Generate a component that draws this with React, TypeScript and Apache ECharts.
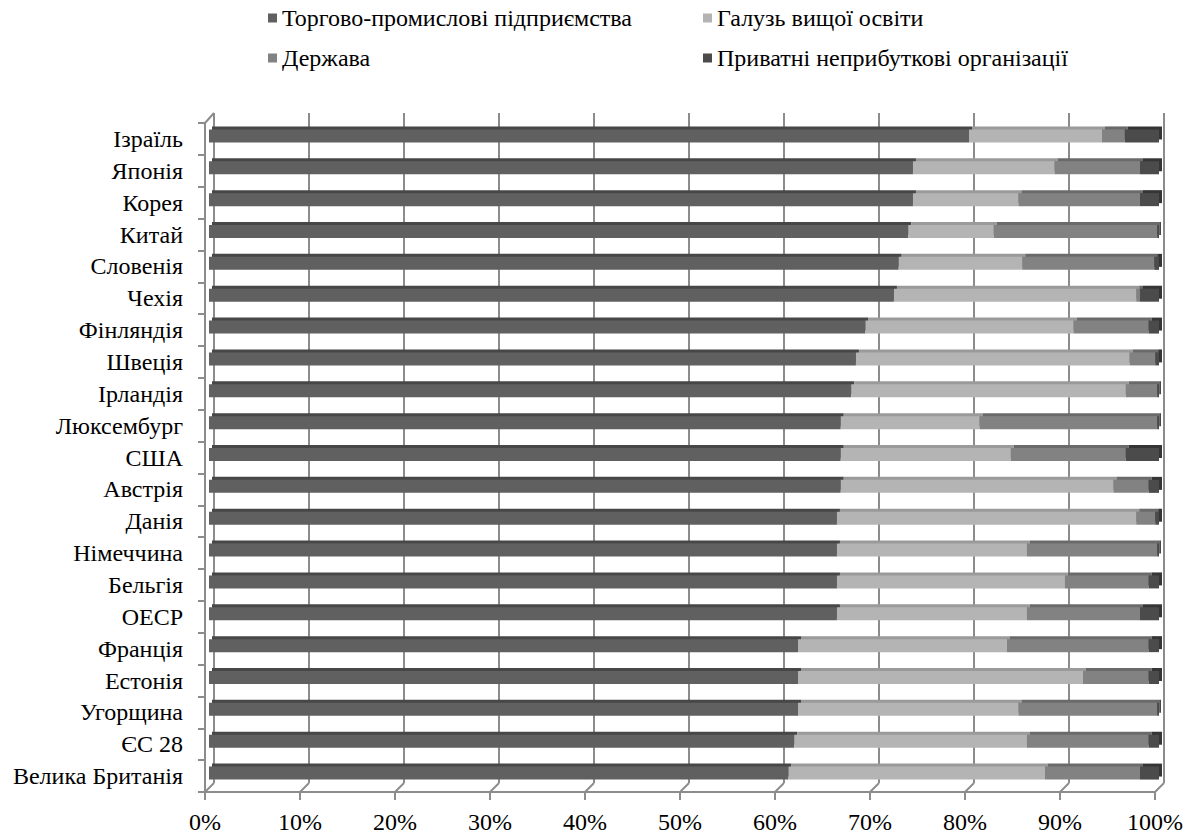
import React, { useEffect, useRef } from "react";
import * as echarts from "echarts";

const categories = [
  "Ізраїль", "Японія", "Корея", "Китай", "Словенія", "Чехія", "Фінляндія",
  "Швеція", "Ірландія", "Люксембург", "США", "Австрія", "Данія", "Німеччина",
  "Бельгія", "ОЕСР", "Франція", "Естонія", "Угорщина", "ЄС 28", "Велика Британія",
];
const seriesNames = [
  "Торгово-промислові підприємства",
  "Галузь вищої освіти",
  "Держава",
  "Приватні неприбуткові організації",
];
const business = [80.0, 74.1, 74.1, 73.6, 72.6, 72.1, 69.1, 68.1, 67.6, 66.5, 66.5, 66.5, 66.1, 66.1, 66.1, 66.1, 62.0, 62.0, 62.0, 61.6, 61.0];
const higherEd = [14.0, 14.9, 11.1, 9.0, 13.0, 25.5, 21.9, 28.8, 28.9, 14.6, 17.9, 28.7, 31.5, 20.0, 24.0, 20.0, 22.0, 30.0, 23.2, 24.5, 27.0];
const government = [2.4, 9.0, 12.8, 17.2, 13.9, 0.4, 7.9, 2.7, 3.3, 18.7, 12.1, 3.7, 2.0, 13.7, 8.8, 11.9, 14.9, 6.9, 14.6, 12.8, 10.0];
const privateNP = [3.6, 2.0, 2.0, 0.2, 0.5, 2.0, 1.1, 0.4, 0.2, 0.2, 3.5, 1.1, 0.4, 0.2, 1.1, 2.0, 1.1, 1.1, 0.2, 1.1, 2.0];
const xTicks = [0, 10, 20, 30, 40, 50, 60, 70, 80, 90, 100];

const colors = ["#606060", "#b4b4b4", "#828282", "#4b4b4b"];
const shadowColors = ["#474747", "#9a9a9a", "#6a6a6a", "#363636"];
const FONT = "Liberation Serif";
const GRID_COLOR = "#8c8c8c";
const FS = 24;

export default function App() {
  const ref = useRef<HTMLDivElement>(null);
  useEffect(() => {
    document.body.style.margin = "0";
    const chart = echarts.init(ref.current!, null, { renderer: "svg" });
    const values = [business, higherEd, government, privateNP];
    const legendPos = [
      { left: 268, top: 6 },
      { left: 703, top: 6 },
      { left: 268, top: 46 },
      { left: 703, top: 46 },
    ];
    const option: any = {
      animation: false,
      backgroundColor: "#ffffff",
      textStyle: { fontFamily: FONT },
      legend: seriesNames.map((n, i) => ({
        data: [n],
        left: legendPos[i].left,
        top: legendPos[i].top,
        padding: 0,
        icon: "rect",
        itemWidth: 9,
        itemHeight: 9,
        selectedMode: false,
        textStyle: { fontFamily: FONT, fontSize: FS, color: "#000" },
      })),
      grid: [
        // back wall
        { left: 214, right: 24, top: 113, bottom: 51 },
        // bars (middle depth)
        { left: 209, right: 29, top: 120, bottom: 45 },
        // front plane with axes
        { left: 205, right: 33, top: 123, bottom: 42 },
      ],
      xAxis: [
        {
          gridIndex: 0, type: "value", min: 0, max: 100, interval: 10,
          axisLine: { show: false }, axisTick: { show: false }, axisLabel: { show: false },
          splitLine: { show: true, lineStyle: { color: GRID_COLOR, width: 2 } },
        },
        {
          gridIndex: 1, type: "value", min: 0, max: 100, interval: 10, show: false,
          splitLine: { show: false },
        },
        {
          gridIndex: 2, type: "value", min: 0, max: 100, interval: 10,
          axisLine: { show: true, lineStyle: { color: GRID_COLOR, width: 2 } },
          axisTick: { show: true, length: 8, lineStyle: { color: GRID_COLOR, width: 2 } },
          axisLabel: {
            show: true, margin: 18, fontFamily: FONT, fontSize: FS, color: "#000",
            formatter: (v: number) => (xTicks.includes(v) ? v + "%" : ""),
          },
          splitLine: { show: false },
        },
      ],
      yAxis: [
        { gridIndex: 0, type: "category", data: categories, inverse: true, show: false },
        { gridIndex: 1, type: "category", data: categories, inverse: true, show: false },
        {
          gridIndex: 2, type: "category", data: categories, inverse: true,
          axisLine: { show: true, lineStyle: { color: GRID_COLOR, width: 2 } },
          axisTick: { show: true, length: 7, lineStyle: { color: GRID_COLOR, width: 2 } },
          axisLabel: { margin: 22, fontFamily: FONT, fontSize: FS, color: "#000" },
          splitLine: { show: false },
        },
      ],
      series: seriesNames.map((n, i) => ({
        name: n,
        type: "bar",
        xAxisIndex: 1,
        yAxisIndex: 1,
        stack: "total",
        barWidth: 13,
        data: values[i],
        itemStyle: {
          color: colors[i],
          shadowColor: shadowColors[i],
          shadowOffsetX: 3,
          shadowOffsetY: -3,
          shadowBlur: 0,
        },
      })),
    };
    chart.setOption(option);

    // floor / wall edges connecting the front plane to the back wall
    const n = categories.length;
    const last = categories[n - 1];
    const frontBand = 669 / n;
    const backBand = 670 / n;
    const graphics: any[] = [];
    xTicks.forEach((v) => {
      const f = chart.convertToPixel({ xAxisIndex: 2, yAxisIndex: 2 }, [v, last]);
      const b = chart.convertToPixel({ xAxisIndex: 0, yAxisIndex: 0 }, [v, last]);
      graphics.push({
        type: "line",
        shape: { x1: f[0], y1: f[1] + frontBand / 2, x2: b[0], y2: b[1] + backBand / 2 },
        style: { stroke: GRID_COLOR, lineWidth: 2 },
        silent: true,
      });
    });
    const fTop = chart.convertToPixel({ xAxisIndex: 2, yAxisIndex: 2 }, [0, categories[0]]);
    const bTop = chart.convertToPixel({ xAxisIndex: 0, yAxisIndex: 0 }, [0, categories[0]]);
    graphics.push({
      type: "line",
      shape: { x1: fTop[0], y1: fTop[1] - frontBand / 2, x2: bTop[0], y2: bTop[1] - backBand / 2 },
      style: { stroke: GRID_COLOR, lineWidth: 2 },
      silent: true,
    });
    chart.setOption({ graphic: graphics });

    return () => chart.dispose();
  }, []);
  return <div ref={ref} style={{ width: 1188, height: 834 }} />;
}
